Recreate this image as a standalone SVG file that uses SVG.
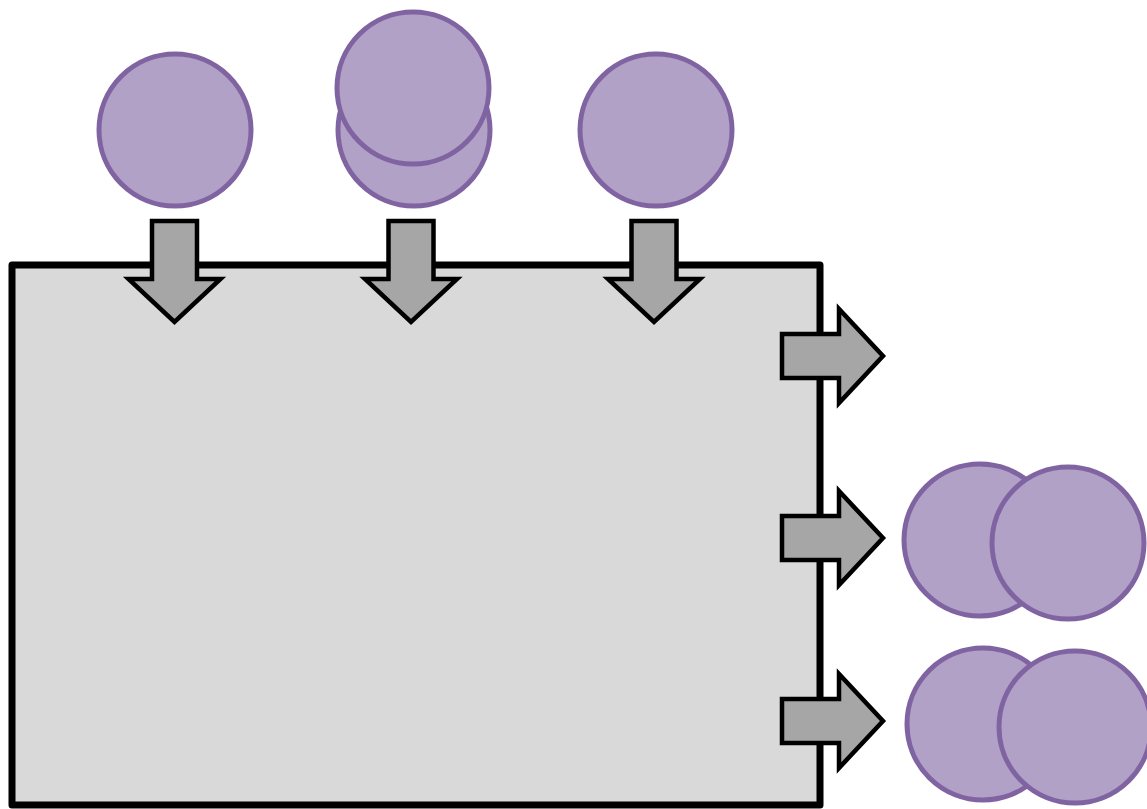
<svg xmlns="http://www.w3.org/2000/svg" width="1147" height="809" viewBox="0 0 1147 809">
<style>
.c{fill:#b2a1c7;stroke:#8064a2;stroke-width:5}
.a{fill:#a6a6a6;stroke:#000;stroke-width:4.5;stroke-linejoin:miter}
.box{fill:#d9d9d9;stroke:#000;stroke-width:7;stroke-linejoin:round}
</style>
<defs>
<path id="down" d="M-22.5,0 H22.5 V58 H46 L0,101 L-46,58 H-22.5 Z"/>
<path id="right" d="M0,-22 H57 V-47 L101,0 L57,47 V22 H0 Z"/>
</defs>
<g id="box"><rect class="box" x="12" y="265" width="808" height="540"/></g>
<g id="inputs">
<g id="in1"><circle class="c" cx="175" cy="130" r="76"/></g>
<g id="in2"><circle class="c" cx="414" cy="130" r="76"/><circle class="c" cx="413" cy="88" r="76"/></g>
<g id="in3"><circle class="c" cx="656" cy="130" r="76"/></g>
</g>
<g id="outputs">
<g id="out2"><circle class="c" cx="980" cy="540" r="76"/><circle class="c" cx="1068" cy="543" r="76"/></g>
<g id="out3"><circle class="c" cx="983" cy="724" r="76"/><circle class="c" cx="1075" cy="727" r="76"/></g>
</g>
<g id="connectors">
<use href="#down" class="a" x="174.5" y="221"/>
<use href="#down" class="a" x="411" y="221"/>
<use href="#down" class="a" x="654" y="221"/>
<use href="#right" class="a" x="782" y="356"/>
<use href="#right" class="a" x="782" y="538"/>
<use href="#right" class="a" x="782" y="721"/>
</g>
</svg>
